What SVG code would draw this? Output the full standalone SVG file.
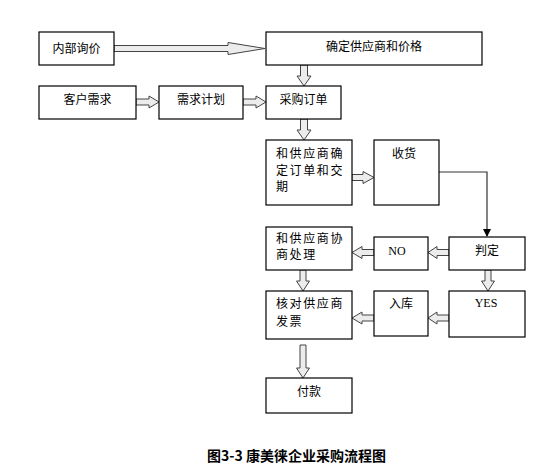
<svg xmlns="http://www.w3.org/2000/svg" width="547" height="473" viewBox="0 0 547 473">
<defs>
<style>
.box{fill:#fff;stroke:#000;stroke-width:1.2}
.t{font-family:"Noto Sans CJK SC","Liberation Sans",sans-serif;font-size:12px;fill:#000}
.c{text-anchor:middle}
.ls{letter-spacing:1.6px}
.lat{font-family:"Liberation Serif",serif;font-size:12px;fill:#000;text-anchor:middle}
.arr{fill:#ececec;stroke:#444;stroke-width:1}
.thin{fill:none;stroke:#333;stroke-width:1.2}
.title{font-family:"Noto Sans CJK SC","Liberation Sans",sans-serif;font-size:14px;font-weight:bold;fill:#000;text-anchor:middle}
</style>
<marker id="ah" markerWidth="8" markerHeight="8" refX="7" refY="4" orient="auto" markerUnits="userSpaceOnUse">
<path d="M0,0 L8,4 L0,8 Z" fill="#000"/>
</marker>
</defs>
<rect width="547" height="473" fill="#fff"/>

<g id="connectors">
<polygon class="arr" points="114,45.5 228,45.5 228,42.5 265,48.5 228,54.5 228,51.5 114,51.5"/>
<polygon class="arr" points="136,99 149,99 149,96 159,102 149,108 149,105 136,105"/>
<polygon class="arr" points="243,99 256,99 256,96 266,102 256,108 256,105 243,105"/>
<polygon class="arr" points="300.5,65 307.5,65 307.5,76 311,76 304,86 297,76 300.5,76"/>
<polygon class="arr" points="300.5,119 307.5,119 307.5,130 311,130 304,140 297,130 300.5,130"/>
<polygon class="arr" points="352,174.5 363,174.5 363,171.5 374,177.5 363,183.5 363,180.5 352,180.5"/>
<path class="thin" d="M439,172 H487 V236" marker-end="url(#ah)"/>
<polygon class="arr" points="449,249.5 437,249.5 437,246.5 428,252.5 437,258.5 437,255.5 449,255.5"/>
<polygon class="arr" points="374,249.5 362,249.5 362,246.5 352,252.5 362,258.5 362,255.5 374,255.5"/>
<polygon class="arr" points="300,270 306,270 306,281 309.5,281 303,291 296.5,281 300,281"/>
<polygon class="arr" points="485,270 491,270 491,281 494.5,281 488,291 481.5,281 485,281"/>
<polygon class="arr" points="449,315 437,315 437,312 428,318 437,324 437,321 449,321"/>
<polygon class="arr" points="374,315 362,315 362,312 352,318 362,324 362,321 374,321"/>
<polygon class="arr" points="300,345 306,345 306,368 309.5,368 303,378 296.5,368 300,368"/>
</g>

<g id="n_neibu"><rect class="box" x="39" y="32" width="75" height="33"/><text class="t c" x="76.5" y="52.5">内部询价</text></g>
<g id="n_queding"><rect class="box" x="266" y="32" width="216" height="33"/><text class="t c" x="374" y="51">确定供应商和价格</text></g>
<g id="n_kehu"><rect class="box" x="39" y="86" width="97" height="33"/><text class="t c" x="87.5" y="104">客户需求</text></g>
<g id="n_jihua"><rect class="box" x="159" y="86" width="84" height="33"/><text class="t c" x="201" y="104">需求计划</text></g>
<g id="n_dingdan"><rect class="box" x="266" y="86" width="75" height="33"/><text class="t c" x="303.5" y="104">采购订单</text></g>
<g id="n_jiaoqi"><rect class="box" x="266" y="140" width="86" height="65"/>
<text class="t ls" x="276" y="158">和供应商确</text><text class="t ls" x="276" y="174.5">定订单和交</text><text class="t ls" x="276" y="190.5">期</text></g>
<g id="n_shouhuo"><rect class="box" x="374" y="140" width="65" height="65"/><text class="t c" x="404" y="158">收货</text></g>
<g id="n_xieshang"><rect class="box" x="266" y="227" width="86" height="43"/>
<text class="t ls" x="276" y="242.5">和供应商协</text><text class="t ls" x="276" y="258.5">商处理</text></g>
<g id="n_no"><rect class="box" x="374" y="237" width="54" height="33"/><text class="lat" x="397" y="254.5">NO</text></g>
<g id="n_panding"><rect class="box" x="449" y="237" width="76" height="33"/><text class="t c" x="487" y="255">判定</text></g>
<g id="n_fapiao"><rect class="box" x="266" y="291" width="86" height="48"/>
<text class="t ls" x="276" y="308">核对供应商</text><text class="t ls" x="276" y="326">发票</text></g>
<g id="n_ruku"><rect class="box" x="374" y="291" width="54" height="45"/><text class="t c" x="401" y="308">入库</text></g>
<g id="n_yes"><rect class="box" x="449" y="291" width="76" height="46"/><text class="lat" x="486" y="307">YES</text></g>
<g id="n_fukuan"><rect class="box" x="266" y="378" width="86" height="35"/><text class="t c" x="309" y="396">付款</text></g>

<text class="title" x="296.5" y="461">图3-3 康美徕企业采购流程图</text>
</svg>
